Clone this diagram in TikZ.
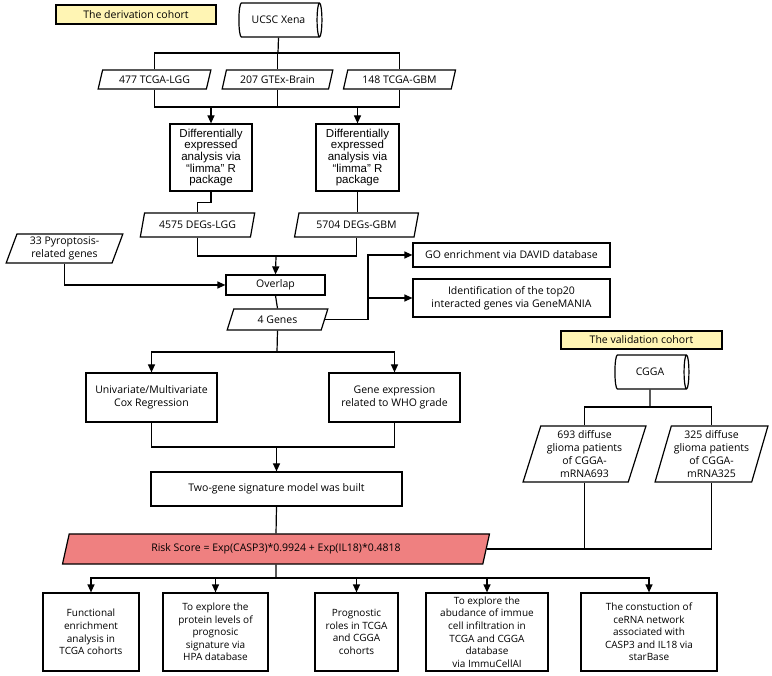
\documentclass[tikz,border=0pt]{standalone}
\usepackage{fontspec}
\setmainfont{Open Sans}
\newfontfamily\arialfont{Liberation Sans}
\usetikzlibrary{positioning,arrows.meta,shapes.geometric}
\definecolor{note100}{HTML}{FFF5B4}
\definecolor{risk300}{HTML}{EF8080}
\tikzset{
  box/.style  ={draw, line width=1.2pt, fill=white, align=center, inner sep=2pt,
                font=\fontsize{10.5}{13}\selectfont},
  boxa/.style ={box, font=\arialfont\fontsize{11.5}{11.7}\selectfont},
  boxs/.style ={box, font=\fontsize{10}{12.6}\selectfont},
  para/.style ={draw, line width=1.2pt, fill=white, trapezium,
                trapezium left angle=72, trapezium right angle=108,
                trapezium stretches=true, align=center, inner sep=1pt,
                font=\fontsize{10.5}{12.7}\selectfont},
  drum/.style ={draw, line width=1.2pt, cylinder, aspect=0.5, inner sep=1pt,
                font=\fontsize{10.5}{13}\selectfont},
  tag/.style  ={draw, line width=1.2pt, fill=note100, inner sep=1pt,
                font=\fontsize{10.5}{13}\selectfont},
  ln/.style   ={line width=1.2pt},
  ar/.style   ={-{Triangle[length=8pt,width=7pt]}, line width=1.2pt}
}
\begin{document}
\begin{tikzpicture}[x=1pt,y=-1pt]
\useasboundingbox (0,0) rectangle (772,676);
% derivation cohort
\node[tag, minimum width=160pt, minimum height=19pt] (derive) at (136,14.5)
  {The derivation cohort};
\node[drum, minimum height=83pt, minimum width=34pt] (xena) at (278.5,20)
  {UCSC Xena};
\node[para, minimum width=113pt, minimum height=19pt] (lgg) at (154.5,79.5)
  {477 TCGA-LGG};
\node[para, minimum width=111pt, minimum height=19pt] (gtex) at (277.5,79.5)
  {207 GTEx-Brain};
\node[para, minimum width=113pt, minimum height=19pt] (gbm) at (399.5,79.5)
  {148 TCGA-GBM};
\node[boxa, minimum width=82pt, minimum height=67pt] (limmaL) at (211,157.5)
  {Differentially\\expressed\\analysis via\\“limma” R\\package};
\node[boxa, minimum width=83pt, minimum height=67pt] (limmaG) at (357.5,157.5)
  {Differentially\\expressed\\analysis via\\“limma” R\\package};
\node[para, minimum width=115pt, minimum height=24pt] (degL) at (197.5,225)
  {4575 DEGs-LGG};
\node[para, minimum width=125pt, minimum height=24pt] (degG) at (356.5,225)
  {5704 DEGs-GBM};
\node[para, minimum width=117pt, minimum height=29pt] (pyro) at (64.5,248.5)
  {33 Pyroptosis-\\related genes};
\node[box, minimum width=99pt, minimum height=20pt] (overlap) at (275.5,285)
  {Overlap};
\node[para, minimum width=101pt, minimum height=21pt] (genes) at (277.5,319.5)
  {4 Genes};
\node[box, minimum width=197pt, minimum height=24pt] (go) at (511.5,255)
  {GO enrichment via DAVID database};
\node[box, minimum width=197pt, minimum height=38pt] (mania) at (511.5,298)
  {Identification of the top20\\interacted genes via GeneMANIA};
\node[box, minimum width=131pt, minimum height=49pt] (cox) at (151.5,397.5)
  {Univariate/Multivariate\\Cox Regression};
\node[box, minimum width=131pt, minimum height=49pt] (who) at (394.5,397.5)
  {Gene expression\\related to WHO grade};
\node[box, minimum width=251pt, minimum height=34pt] (model) at (276.5,489)
  {Two-gene signature model was built};
\node[para, fill=risk300, minimum width=428pt, minimum height=30pt] (risk) at (276,549)
  {Risk Score = Exp(CASP3)*0.9924 + Exp(IL18)*0.4818};
% validation cohort
\node[tag, minimum width=161pt, minimum height=18pt] (valid) at (641.5,340)
  {The validation cohort};
\node[drum, minimum height=74pt, minimum width=34pt] (cgga) at (650,372)
  {CGGA};
\node[para, minimum width=123pt, minimum height=56pt] (m693) at (584.5,454)
  {693 diffuse\\glioma patients\\of CGGA-\\mRNA693};
\node[para, minimum width=113pt, minimum height=56pt] (m325) at (711.5,454)
  {325 diffuse\\glioma patients\\of CGGA-\\mRNA325};
% outcomes
\node[boxs, minimum width=96pt, minimum height=78pt] (func) at (91,632)
  {Functional\\enrichment\\analysis in\\TCGA cohorts};
\node[boxs, minimum width=105pt, minimum height=78pt] (hpa) at (215.5,632)
  {To explore the\\protein levels of\\prognosic\\signature via\\HPA database};
\node[boxs, minimum width=83pt, minimum height=78pt] (prog) at (356.5,632)
  {Prognostic\\roles in TCGA\\and CGGA\\cohorts};
\node[boxs, minimum width=122pt, minimum height=78pt] (immune) at (487,632)
  {To explore the\\abudance of immue\\cell infiltration in\\TCGA and CGGA\\database\\via ImmuCellAI};
\node[boxs, minimum width=136pt, minimum height=78pt] (cerna) at (649,632)
  {The constuction of\\ceRNA network\\associated with\\CASP3 and IL18 via\\starBase};
% junctions
\coordinate (j1) at (278,53);
\coordinate (j2) at (277,107);
\coordinate (j3) at (276,256);
\coordinate (j4) at (368,298);
\coordinate (j5) at (277,352);
\coordinate (j6) at (276.5,447);
\coordinate (j7) at (650,407);
\coordinate (j8) at (276,578);
% connectors
\draw[ln] (xena.south) -- (j1);
\draw[ln] (lgg.north) |- (j1) -| (gbm.north);
\draw[ln] (gtex.north) -- (gtex.north |- j1);
\draw[ln] (lgg.south) |- (j2) -| (gbm.south);
\draw[ln] (gtex.south) -- (gtex.south |- j2);
\draw[ar] (limmaL.north |- j2) -- (limmaL.north);
\draw[ar] (limmaG.north |- j2) -- (limmaG.north);
\draw[ln] (limmaL.south) -- ++(0,11) -| (degL.north);
\draw[ln] (limmaG.south) -- (limmaG.south |- degG.north);
\draw[ln] (degL.south) |- (j3) -| (degG.south);
\draw[ar] (j3) -- (overlap.north);
\draw[ar] (pyro.south) |- (overlap.west);
\draw[ln] (overlap.south) -- (genes.north);
\draw[ar] (genes.east) -| (j4) |- (go.west);
\draw[ar] (j4) -- (mania.west);
\draw[ln] (genes.south) -- (j5);
\draw[ar] (j5) -| (cox.north);
\draw[ar] (j5) -| (who.north);
\draw[ln] (cox.south) |- (j6) -| (who.south);
\draw[ar] (j6) -- (model.north);
\draw[ln] (model.south) -- (risk.north);
\draw[ln] (cgga.south) -- (j7);
\draw[ln] (m693.north) |- (j7) -| (m325.north);
\draw[ln] (risk.east) -| (m325.south);
\draw[ln] (m693.south) -- (m693.south |- risk.east);
\draw[ln] (risk.south) -- (j8);
\draw[ar] (j8) -| (func.north);
\draw[ar] (j8) -| (hpa.north);
\draw[ar] (j8) -| (prog.north);
\draw[ar] (j8) -| (immune.north);
\draw[ar] (j8) -| (cerna.north);
\end{tikzpicture}
\end{document}
